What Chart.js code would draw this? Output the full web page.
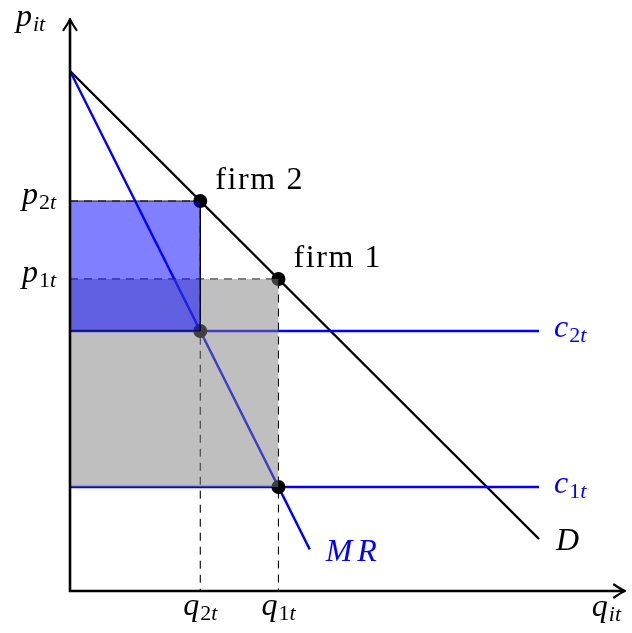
<!DOCTYPE html>
<html>
<head>
<meta charset="utf-8">
<script src="https://cdn.jsdelivr.net/npm/chart.js@4.4.0/dist/chart.umd.min.js"></script>
<style>
  html, body { margin: 0; padding: 0; background: #fff; }
  canvas { display: block; }
</style>
</head>
<body>
<canvas id="chart" width="632" height="633"></canvas>
<script>
// values (quantity q, price p)
const qMax = 21.3;
const pMax = 22;
const demandQ = [0, 18];
const demandP = [20, 2];
const mrQ = [0, 9.2];
const mrP = [20, 1.6];
const costQ = [0, 18];
const costP = [10, 4];          // c2t, c1t
const firmQ = [5, 8];           // q2t, q1t
const firmP = [15, 12];         // p2t, p1t
const mrAtFirmP = [10, 4];      // MR at q2t, q1t
const xTickLabels = [['q', '2t'], ['q', '1t']];
const yTickLabels = [['p', '2t'], ['p', '1t']];
const costLabels = [['c', '2t'], ['c', '1t']];
const firmLabels = ['firm 2', 'firm 1'];

const BLUE = '#0000ff';
const LW = 2.4;
const pts = (xs, ys) => xs.map((x, i) => ({ x: x, y: ys[i] }));

function lineDs(data, color, width, order, extra) {
  return Object.assign({
    data: data, borderColor: color, borderWidth: width, pointRadius: 0,
    fill: false, tension: 0, order: order, clip: false
  }, extra || {});
}

const datasets = [
  // blue rectangle (firm 2) : fill between top and bottom edge
  lineDs(pts([0, firmQ[0]], [firmP[0], firmP[0]]), 'rgba(0,0,0,0)', 0, 1,
         { fill: '+1', backgroundColor: 'rgba(0,0,255,0.5)' }),
  lineDs(pts([0, firmQ[0]], [mrAtFirmP[0], mrAtFirmP[0]]), 'rgba(0,0,0,0)', 0, 1),
  lineDs(pts([0, firmQ[0], firmQ[0], 0], [firmP[0], firmP[0], mrAtFirmP[0], mrAtFirmP[0]]),
         'rgba(0,0,0,0.85)', 1, 0),
  // gray rectangle (firm 1)
  lineDs(pts([0, firmQ[1]], [firmP[1], firmP[1]]), 'rgba(0,0,0,0)', 0, 2,
         { fill: '+1', backgroundColor: 'rgba(128,128,128,0.5)' }),
  lineDs(pts([0, firmQ[1]], [mrAtFirmP[1], mrAtFirmP[1]]), 'rgba(0,0,0,0)', 0, 2),
  // dots
  lineDs(pts([firmQ[0], firmQ[1], firmQ[0], firmQ[1]],
             [firmP[0], firmP[1], mrAtFirmP[0], mrAtFirmP[1]]), 'rgba(0,0,0,0)', 0, 3,
         { showLine: false, pointRadius: 7, pointBackgroundColor: '#000', pointBorderWidth: 0 }),
  // cost lines
  lineDs(pts(costQ, [costP[0], costP[0]]), BLUE, LW, 4),
  lineDs(pts(costQ, [costP[1], costP[1]]), BLUE, LW, 4),
  // marginal revenue and demand
  lineDs(pts(mrQ, mrP), BLUE, LW, 4),
  lineDs(pts(demandQ, demandP), '#000', LW, 4),
  // dashed guides
  lineDs(pts([0, firmQ[0], firmQ[0]], [firmP[0], firmP[0], 0]), '#000', 1.1, 5, { borderDash: [8, 6] }),
  lineDs(pts([0, firmQ[1], firmQ[1]], [firmP[1], firmP[1], 0]), '#000', 1.1, 5, { borderDash: [8, 6] })
];

const SERIF = '"Liberation Serif", "DejaVu Serif", serif';
const MAIN = 32, SUB = 22;

function setFont(ctx, italic, size, spacing) {
  ctx.font = (italic ? 'italic ' : '') + size + 'px ' + SERIF;
  ctx.letterSpacing = (spacing || 0) + 'px';
}

function mathWidth(ctx, base, sub, spacing) {
  setFont(ctx, true, MAIN, spacing);
  let w = ctx.measureText(base).width + 1;
  for (const ch of sub) {
    setFont(ctx, !/[0-9]/.test(ch), SUB, 0);
    w += ctx.measureText(ch).width;
  }
  return w;
}

function drawMath(ctx, base, sub, x, y, align, color, spacing) {
  const w = mathWidth(ctx, base, sub, spacing);
  if (align === 'right') x -= w;
  if (align === 'center') x -= w / 2;
  ctx.fillStyle = color;
  ctx.textBaseline = 'alphabetic';
  ctx.textAlign = 'left';
  setFont(ctx, true, MAIN, spacing);
  ctx.fillText(base, x, y);
  x += ctx.measureText(base).width + 1;
  for (const ch of sub) {
    setFont(ctx, !/[0-9]/.test(ch), SUB, 0);
    ctx.fillText(ch, x, y + 5);
    x += ctx.measureText(ch).width;
  }
  ctx.letterSpacing = '0px';
}

function arrowHead(ctx, x, y, dx, dy) {
  // TikZ-like curved "to" arrow tip
  const L = 11, W = 6.5;
  const nx = -dy, ny = dx;
  ctx.beginPath();
  ctx.moveTo(x - dx * L + nx * W, y - dy * L + ny * W);
  ctx.quadraticCurveTo(x - dx * 3 + nx * 1, y - dy * 3 + ny * 1, x, y);
  ctx.quadraticCurveTo(x - dx * 3 - nx * 1, y - dy * 3 - ny * 1, x - dx * L - nx * W, y - dy * L - ny * W);
  ctx.stroke();
}

const overlay = {
  id: 'overlay',
  afterDatasetsDraw(chart) {
    const ctx = chart.ctx;
    const xs = chart.scales.x, ys = chart.scales.y;
    const x0 = xs.getPixelForValue(0), y0 = ys.getPixelForValue(0);
    const xEnd = xs.getPixelForValue(qMax), yEnd = ys.getPixelForValue(pMax);
    ctx.save();
    // axes
    ctx.strokeStyle = '#000';
    ctx.lineWidth = 2.6;
    ctx.lineCap = 'butt';
    ctx.beginPath();
    ctx.moveTo(x0, y0 + 1.3); ctx.lineTo(x0, yEnd + 1);
    ctx.moveTo(x0 - 1.3, y0); ctx.lineTo(xEnd - 1, y0);
    ctx.stroke();
    ctx.lineWidth = 2.2;
    ctx.lineCap = 'round';
    ctx.lineJoin = 'round';
    arrowHead(ctx, x0, yEnd, 0, -1);
    arrowHead(ctx, xEnd, y0, 1, 0);

    // axis names
    drawMath(ctx, 'p', 'it', 16, 26, 'left', '#000');
    drawMath(ctx, 'q', 'it', xEnd - 4, y0 + 25, 'right', '#000');

    // tick labels
    firmQ.forEach((q, i) => {
      drawMath(ctx, xTickLabels[i][0], xTickLabels[i][1], xs.getPixelForValue(q), y0 + 24, 'center', '#000');
    });
    firmP.forEach((p, i) => {
      drawMath(ctx, yTickLabels[i][0], yTickLabels[i][1], x0 - 14, ys.getPixelForValue(p) + 3, 'right', '#000');
    });

    // cost labels
    costP.forEach((c, i) => {
      drawMath(ctx, costLabels[i][0], costLabels[i][1], xs.getPixelForValue(costQ[1]) + 15,
               ys.getPixelForValue(c) + 6, 'left', BLUE);
    });

    // curve names
    drawMath(ctx, 'D', '', xs.getPixelForValue(demandQ[1]) + 17, ys.getPixelForValue(demandP[1]) + 11, 'left', '#000', 1);
    drawMath(ctx, 'MR', '', xs.getPixelForValue(mrQ[1]) + 16, ys.getPixelForValue(mrP[1]) + 12, 'left', BLUE, 5);

    // firm labels
    setFont(ctx, false, MAIN, 1.6);
    ctx.fillStyle = '#000';
    ctx.textAlign = 'left';
    ctx.textBaseline = 'alphabetic';
    firmQ.forEach((q, i) => {
      ctx.fillText(firmLabels[i], xs.getPixelForValue(q) + 15, ys.getPixelForValue(firmP[i]) - 12);
    });
    ctx.restore();
  }
};

new Chart(document.getElementById('chart'), {
  type: 'line',
  data: { datasets: datasets },
  options: {
    responsive: false,
    animation: false,
    layout: { padding: { left: 70, right: 3, top: 19, bottom: 42 } },
    plugins: { legend: { display: false }, tooltip: { enabled: false } },
    scales: {
      x: { type: 'linear', min: 0, max: qMax, display: false },
      y: { type: 'linear', min: 0, max: pMax, display: false }
    }
  },
  plugins: [overlay]
});
</script>
</body>
</html>
